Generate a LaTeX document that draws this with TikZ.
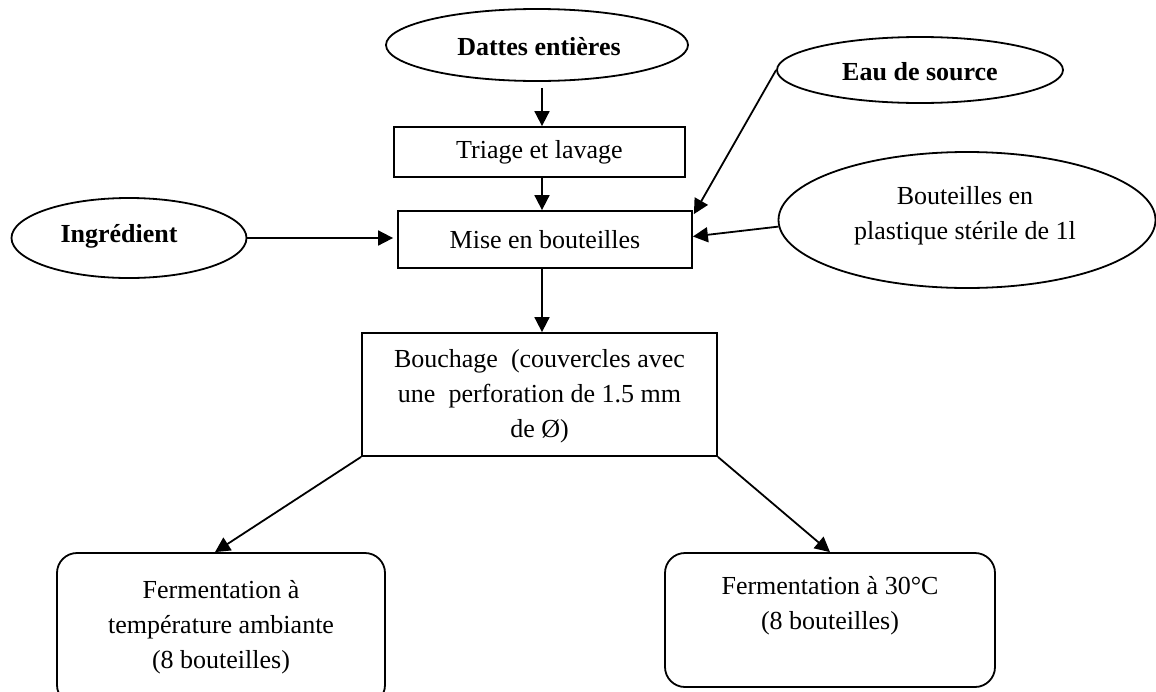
\documentclass[tikz,border=0pt]{standalone}
\usepackage{fontspec}
\setmainfont{Liberation Serif}
\usetikzlibrary{shapes.geometric,arrows.meta,calc}

\tikzset{
  every node/.style={font=\fontsize{13}{17.5}\selectfont, inner sep=0pt, align=center},
  oval/.style={ellipse, draw, line width=0.9pt},
  stepbox/.style={rectangle, draw, line width=0.9pt},
  roundbox/.style={rectangle, draw, rounded corners=10pt, line width=0.9pt},
  arr/.style={line width=0.9pt, -{Triangle[length=7.5pt,width=7.5pt]}},
}

\begin{document}
\begin{tikzpicture}[x=0.5pt,y=-0.5pt]
  \useasboundingbox (0,0) rectangle (1156,691);
  \clip (0,0) rectangle (1156,691);

  % inputs
  \node[oval, minimum width=151pt, minimum height=36pt] (dattes) at (537,45) {};
  \node[font=\fontsize{13}{17.5}\selectfont\bfseries] (dattesT) at (539,47) {Dattes entières};
  \node[oval, minimum width=143pt, minimum height=33pt] (eau) at (920,70) {};
  \node[font=\fontsize{13}{17.5}\selectfont\bfseries] (eauT) at (920,72) {Eau de source};
  \node[oval, minimum width=117.5pt, minimum height=40pt] (ingr) at (129,238) {};
  \node[font=\fontsize{13}{17.5}\selectfont\bfseries] (ingrT) at (119,236) {Ingrédient};
  \node[oval, minimum width=188.5pt, minimum height=68pt] (bout) at (967,220) {};
  \node (boutT) at (965,216) {Bouteilles en\\plastique stérile de 1l};

  % process steps
  \node[stepbox, minimum width=145.5pt, minimum height=25pt] (triage) at (539.5,152) {Triage et lavage};
  \node[stepbox, minimum width=147pt, minimum height=28.5pt] (mise) at (545,239.5) {Mise en bouteilles};
  \node[stepbox, minimum width=177.5pt, minimum height=61.5pt] (bouch) at (539.5,394.5) {};
  \node (bouchT) at (539.5,396) {Bouchage\ \ (couvercles avec\\une\ \ perforation de 1.5 mm\\de Ø)};

  % fermentation
  \node[roundbox, minimum width=164pt, minimum height=76pt] (fermA) at (221,629) {};
  \node (fermAT) at (221,627) {Fermentation à\\température ambiante\\(8 bouteilles)};
  \node[roundbox, minimum width=165pt, minimum height=67pt] (fermB) at (830,620) {};
  \node (fermBT) at (830,606) {Fermentation à 30°C\\(8 bouteilles)};

  % connectors
  \coordinate (axis) at (542,0);
  \draw[arr, shorten <=3pt] (dattes.south -| axis) -- (triage.north -| axis);
  \draw[arr] (triage.south -| axis) -- (mise.north -| axis);
  \draw[arr] (mise.south -| axis) -- (bouch.north -| axis);
  \draw[arr] (ingr.east) -- ($(mise.west |- ingr.east)+(-4,0)$);
  \draw[arr] (eau.west) -- ($(mise.north east)+(1,4)$);
  \draw[arr] (bout.182) -- ($(mise.east)+(0,-3)$);
  \draw[arr] (bouch.south west) -- ($(fermA.north)+(-6,0)$);
  \draw[arr] (bouch.south east) -- (fermB.north);
\end{tikzpicture}
\end{document}
